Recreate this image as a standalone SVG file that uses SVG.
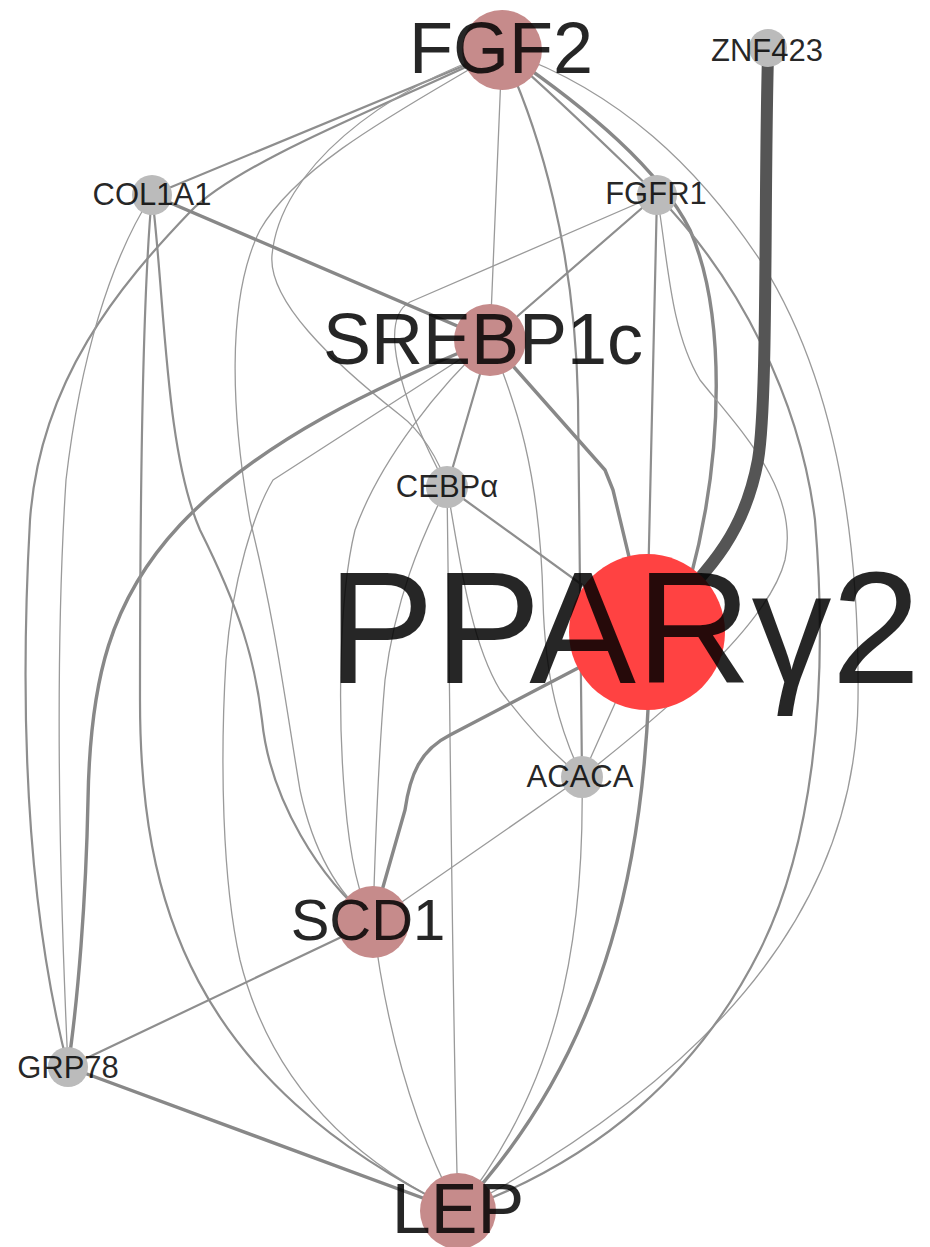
<svg xmlns="http://www.w3.org/2000/svg" width="930" height="1247" viewBox="0 0 930 1247">
<style>
.e{fill:none;stroke-linecap:round;stroke-linejoin:round}
.t1{stroke:#9a9a9a;stroke-width:1.3}
.t2{stroke:#8e8e8e;stroke-width:2.2}
.t3{stroke:#888;stroke-width:3.4}
.tz{stroke:#555;stroke-width:12}
.pink{fill:#c68b8b}
.gray{fill:#bbbbbb}
.red{fill:#ff4242}
text{font-family:"Liberation Sans",Arial,sans-serif;fill:#000;fill-opacity:0.85;text-anchor:middle}
.s{font-size:31px}
</style>
<rect width="930" height="1247" fill="#fff"/>
<g id="connectors">
<path class="e t2" d="M502,50 L152,195"/>
<path class="e t2" d="M502,50 C400,100 240,160 190,212 C120,285 40,380 30,520 C20,700 25,900 68,1067"/>
<path class="e t1" d="M502,50 C420,100 300,160 260,230 C225,300 232,420 250,520 C275,620 285,700 300,790 C315,860 345,900 373,922"/>
<path class="e t1" d="M502,50 C380,90 280,170 272,255 C268,300 330,360 400,415 C420,430 440,460 447,487"/>
<path class="e t1" d="M502,50 C497,150 493,250 490,340"/>
<path class="e t2" d="M502,50 C560,100 610,150 657,195"/>
<path class="e t3" d="M502,50 C590,110 660,170 690,230 C725,310 725,450 690,580"/>
<path class="e t2" d="M502,50 C540,130 575,250 578,400 L582,777"/>
<path class="e t1" d="M502,50 C620,90 700,170 760,260 C830,370 860,520 858,700 C856,870 760,1050 458,1211"/>
<path class="e t2" d="M657,195 C740,280 800,400 815,520 C830,700 810,850 760,950 C700,1070 600,1160 458,1211"/>
<path class="e t1" d="M657,195 C668,260 670,330 700,380 C740,430 800,490 785,560 C770,620 680,700 582,777"/>
<path class="e t2" d="M657,195 L490,340"/>
<path class="e t1" d="M657,195 L410,302 C380,318 395,390 447,487"/>
<path class="e t2" d="M657,195 L647,632"/>
<path class="e t3" d="M490,340 L605,470 L613,490 L647,632"/>
<path class="e t1" d="M490,340 C515,400 540,470 543,600 C545,680 560,730 582,777"/>
<path class="e t2" d="M490,340 L447,487"/>
<path class="e t1" d="M490,340 C440,385 380,460 355,530 C338,600 338,720 345,800 C350,860 360,900 373,922"/>
<path class="e t3" d="M490,340 C380,385 260,440 180,525 C110,600 90,680 88,800 C86,900 78,1000 68,1067"/>
<path class="e t1" d="M490,340 L273,480 C255,510 232,580 226,660 C220,760 222,880 240,960 C270,1080 350,1160 458,1211"/>
<path class="e t3" d="M152,195 L490,340"/>
<path class="e t1" d="M152,195 C110,260 80,360 66,480 C55,650 58,850 68,1067"/>
<path class="e t2" d="M152,195 C142,300 140,500 140,700 C140,900 190,1080 458,1211"/>
<path class="e t2" d="M152,195 C165,300 165,450 200,530 C240,610 255,660 262,720 C270,800 320,880 373,922"/>
<path class="e t2" d="M447,487 L647,632"/>
<path class="e t1" d="M447,487 C460,560 470,640 500,690 C530,730 560,760 582,777"/>
<path class="e t1" d="M447,487 C420,540 395,600 385,680 C378,760 375,850 373,922"/>
<path class="e t1" d="M447,487 C450,700 452,1000 458,1211"/>
<path class="e t1" d="M647,632 L582,777"/>
<path class="e t3" d="M647,632 L450,735 C420,750 410,775 405,810 L373,922"/>
<path class="e t3" d="M650,632 C650,850 610,1050 458,1211"/>
<path class="e t1" d="M582,777 L373,922"/>
<path class="e t1" d="M582,777 C585,950 555,1090 458,1211"/>
<path class="e t2" d="M373,922 L68,1067"/>
<path class="e t1" d="M373,922 C385,1020 410,1120 458,1211"/>
<path class="e t3" d="M68,1067 L458,1211"/>
<path class="e tz" d="M768,55 C764,200 768,400 758,460 C745,530 715,565 660,620"/>
</g>
<g id="FGF2"><circle class="pink" cx="502" cy="50" r="40"/></g>
<g id="ZNF423"><circle class="gray" cx="768" cy="48" r="19"/></g>
<g id="COL1A1"><circle class="gray" cx="152" cy="195" r="20"/></g>
<g id="FGFR1"><circle class="gray" cx="657" cy="195" r="20"/></g>
<g id="SREBP1c"><circle class="pink" cx="490" cy="340" r="36"/></g>
<g id="CEBPa"><circle class="gray" cx="447" cy="487" r="21"/></g>
<g id="PPARg2"><circle class="red" cx="647" cy="632" r="78"/></g>
<g id="ACACA"><circle class="gray" cx="582" cy="777" r="21"/></g>
<g id="SCD1"><circle class="pink" cx="373" cy="922" r="36"/></g>
<g id="GRP78"><circle class="gray" cx="68" cy="1067" r="20"/></g>
<g id="LEP"><circle class="pink" cx="458" cy="1211" r="38"/></g>
<g id="labels">
<text x="501" y="73" font-size="72">FGF2</text>
<text class="s" x="767" y="61">ZNF423</text>
<text class="s" x="152" y="205">COL1A1</text>
<text class="s" x="656" y="204">FGFR1</text>
<text x="483" y="364" font-size="72">SREBP1c</text>
<text class="s" x="447" y="497">CEBPα</text>
<text x="624" y="683" font-size="160">PPARγ2</text>
<text class="s" x="580" y="787">ACACA</text>
<text x="368" y="940" font-size="58">SCD1</text>
<text class="s" x="68" y="1078">GRP78</text>
<text x="458" y="1233" font-size="70">LEP</text>
</g>
</svg>
